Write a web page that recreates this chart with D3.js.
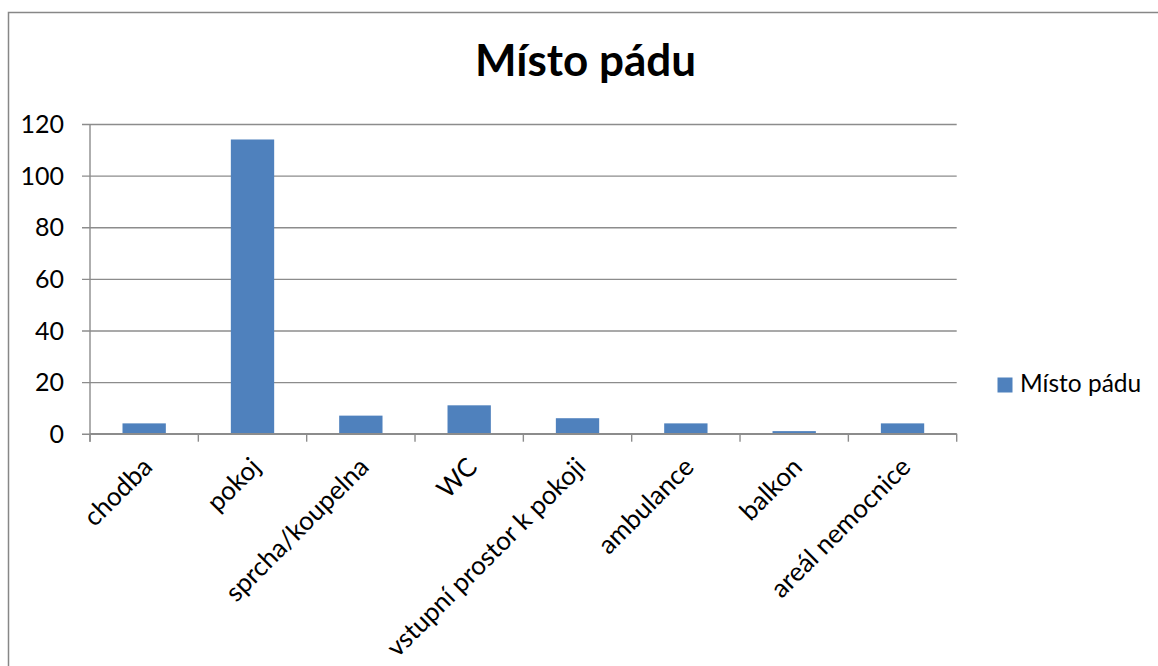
<!DOCTYPE html>
<html>
<head>
<meta charset="utf-8">
<script src="https://cdn.jsdelivr.net/npm/d3@7"></script>
<style>
  html, body { margin: 0; padding: 0; background: #fff; }
  svg { display: block; }
  text { font-family: Lato, "Open Sans", sans-serif; fill: #000; }
</style>
</head>
<body>
<svg id="chart" width="1158" height="666"></svg>
<script>
const title = "Místo pádu";
const seriesName = "Místo pádu";
const categories = ["chodba", "pokoj", "sprcha/koupelna", "WC", "vstupní prostor k pokoji", "ambulance", "balkon", "areál nemocnice"];
const values = [4, 114, 7, 11, 6, 4, 1, 4];
const yTicks = [0, 20, 40, 60, 80, 100, 120];

const svg = d3.select("#chart");
const W = 1158, H = 666;
const plot = { left: 90, right: 956.7, top: 124, bottom: 433.7 };
const barColor = "#4F81BD";
const gridColor = "#8C8C8C";

svg.append("rect").attr("x", 0).attr("y", 0).attr("width", W).attr("height", H).attr("fill", "#fff");
// outer chart border (right/bottom edges lie outside the viewport)
svg.append("rect")
  .attr("x", 8.5).attr("y", 12.5).attr("width", W + 20).attr("height", H + 20)
  .attr("fill", "none").attr("stroke", "#878787").attr("stroke-width", 1.5);

const x = d3.scaleBand().domain(categories).range([plot.left, plot.right]).paddingInner(0.6).paddingOuter(0.3);
const xEdge = d3.scaleBand().domain(categories).range([plot.left, plot.right]).padding(0);
const y = d3.scaleLinear().domain([0, 120]).range([plot.bottom, plot.top]);

// gridlines + y ticks
const yAxis = d3.axisLeft(y).tickValues(yTicks).tickSize(plot.right - plot.left + 8).tickPadding(18).tickFormat(d3.format("d"));
const gy = svg.append("g").attr("transform", `translate(${plot.right},0)`).call(yAxis);
gy.select(".domain").remove();
gy.selectAll(".tick line").attr("stroke", gridColor).attr("stroke-width", 1.4);
gy.selectAll(".tick text").attr("font-size", 25).attr("fill", "#000").attr("dy", "0.35em");

// bars
svg.append("g").selectAll("rect").data(values).join("rect")
  .attr("x", (d, i) => x(categories[i]))
  .attr("width", x.bandwidth())
  .attr("y", d => y(d))
  .attr("height", d => y(0) - y(d))
  .attr("fill", barColor);

// y axis line
svg.append("line").attr("x1", plot.left).attr("x2", plot.left).attr("y1", plot.top).attr("y2", plot.bottom + 8)
  .attr("stroke", gridColor).attr("stroke-width", 1.4);

// x axis line and ticks
svg.append("line").attr("x1", plot.left).attr("x2", plot.right).attr("y1", plot.bottom).attr("y2", plot.bottom)
  .attr("stroke", gridColor).attr("stroke-width", 1.4);
const edges = categories.map(c => xEdge(c)).concat([plot.right]);
svg.append("g").selectAll("line").data(edges).join("line")
  .attr("x1", d => d).attr("x2", d => d)
  .attr("y1", plot.bottom).attr("y2", plot.bottom + 8)
  .attr("stroke", gridColor).attr("stroke-width", 1.4);

// category labels rotated
svg.append("g").selectAll("text").data(categories).join("text")
  .attr("transform", d => `translate(${xEdge(d) + xEdge.bandwidth() / 2 + 5},464) rotate(-45)`)
  .attr("text-anchor", "end")
  .attr("dominant-baseline", "middle")
  .attr("font-size", 26)
  .text(d => d);

// title
svg.append("text").attr("x", 585.5).attr("y", 76).attr("text-anchor", "middle")
  .attr("font-size", 44).attr("font-weight", "bold").text(title);

// legend
svg.append("rect").attr("x", 997.5).attr("y", 377.5).attr("width", 15).attr("height", 15).attr("fill", barColor);
svg.append("text").attr("x", 1020).attr("y", 392).attr("font-size", 24.5).text(seriesName);
</script>
</body>
</html>
